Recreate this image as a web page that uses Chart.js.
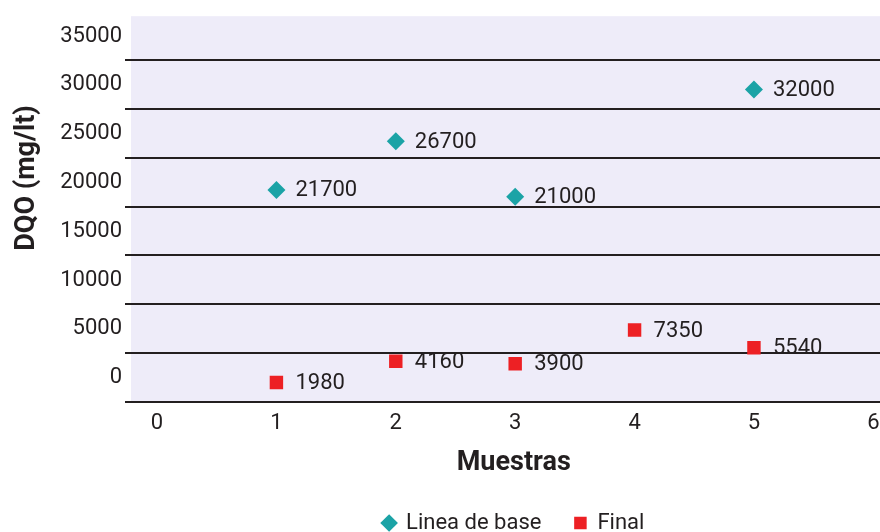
<!DOCTYPE html>
<html>
<head>
<meta charset="utf-8">
<script src="https://cdn.jsdelivr.net/npm/chart.js@4.4.0/dist/chart.umd.min.js"></script>
<style>
  html, body { margin: 0; padding: 0; background: #fff; overflow: hidden; }
  /* the original plot runs past the right and bottom edges of the picture */
  #wrap { position: relative; width: 906px; height: 544px; }
</style>
</head>
<body>
<div id="wrap"><canvas id="myChart"></canvas></div>
<script>
const muestrasBase = [1, 2, 3, 5];
const valoresBase = [21700, 26700, 21000, 32000];
const muestrasFinal = [1, 2, 3, 4, 5];
const valoresFinal = [1980, 4160, 3900, 7350, 5540];
const xTicks = [0, 1, 2, 3, 4, 5, 6];
const yTicks = [0, 5000, 10000, 15000, 20000, 25000, 30000, 35000];
const seriesNames = ["Linea de base", "Final"];
const xTitle = "Muestras";
const yTitle = "DQO (mg/lt)";

const ink = "#231f20";
Chart.defaults.font.family = "Roboto";
Chart.defaults.color = ink;

// lavender fill behind the plot area
const plotBackground = {
  id: "plotBackground",
  beforeDraw(chart) {
    const { ctx, chartArea } = chart;
    ctx.save();
    ctx.fillStyle = "#eeecf9";
    ctx.fillRect(chartArea.left, chartArea.top, chartArea.right - chartArea.left, chartArea.bottom - chartArea.top);
    ctx.restore();
  },
};

// value written to the right of every marker
const pointValues = {
  id: "pointValues",
  afterDatasetsDraw(chart) {
    const { ctx } = chart;
    ctx.save();
    ctx.font = "22px Roboto";
    ctx.fillStyle = ink;
    ctx.textBaseline = "middle";
    chart.data.datasets.forEach((dataset, i) => {
      chart.getDatasetMeta(i).data.forEach((point, j) => {
        ctx.fillText(String(dataset.data[j].y), point.x + 19, point.y + 1);
      });
    });
    ctx.restore();
  },
};

// y title sits a bit higher than the axis centre in the original
const yAxisTitle = {
  id: "yAxisTitle",
  afterDraw(chart) {
    const { ctx } = chart;
    ctx.save();
    ctx.translate(34, 178);
    ctx.rotate(-Math.PI / 2);
    ctx.font = "bold 27px Roboto";
    ctx.fillStyle = ink;
    ctx.textAlign = "center";
    ctx.textBaseline = "alphabetic";
    ctx.fillText(yTitle, 0, 0);
    ctx.restore();
  },
};

const data = {
  datasets: [
    {
      label: seriesNames[0],
      data: muestrasBase.map((m, i) => ({ x: m, y: valoresBase[i] })),
      pointStyle: "rectRot",
      pointRadius: 9,
      pointHoverRadius: 9,
      backgroundColor: "#1ba3a6",
      borderColor: "#1ba3a6",
      borderWidth: 0,
    },
    {
      label: seriesNames[1],
      data: muestrasFinal.map((m, i) => ({ x: m, y: valoresFinal[i] })),
      pointStyle: "rect",
      pointRadius: 9.5,
      pointHoverRadius: 9.5,
      backgroundColor: "#ed2024",
      borderColor: "#ed2024",
      borderWidth: 0,
    },
  ],
};

const config = {
  type: "scatter",
  data,
  options: {
    responsive: true,
    maintainAspectRatio: false,
    animation: false,
    layout: { padding: { top: 16, left: 0, right: 0, bottom: 0 } },
    scales: {
      x: {
        type: "linear",
        min: -0.218,
        max: 6.194,
        afterBuildTicks: (axis) => {
          axis.ticks = xTicks.map((v) => ({ value: v }));
        },
        grid: { display: false, drawTicks: false, tickLength: 0 },
        border: { display: false },
        ticks: { padding: 8, maxRotation: 0, autoSkip: false, font: { size: 22 }, color: ink },
        title: {
          display: true,
          text: xTitle,
          font: { size: 27, weight: "bold" },
          color: ink,
          padding: { top: 2.4, bottom: 0 },
        },
      },
      y: {
        min: 0,
        max: 39500,
        afterBuildTicks: (axis) => {
          axis.ticks = yTicks.map((v) => ({ value: v }));
        },
        afterFit: (axis) => {
          axis.width = 131;
        },
        grid: { color: ink, lineWidth: 2, tickLength: 6 },
        border: { display: false },
        ticks: {
          padding: 3,
          labelOffset: -24, // labels sit between the grid lines in the original
          font: { size: 22 },
          color: ink,
          callback: (v) => String(v),
        },
      },
    },
    plugins: {
      legend: {
        position: "bottom",
        fullSize: false,
        labels: {
          usePointStyle: true,
          boxWidth: 12,
          boxHeight: 12.5,
          padding: 33,
          font: { size: 22 },
          color: ink,
        },
      },
      tooltip: { enabled: false },
    },
  },
  plugins: [plotBackground, pointValues, yAxisTitle],
};

const myChart = new Chart(document.getElementById("myChart"), config);
</script>
</body>
</html>
